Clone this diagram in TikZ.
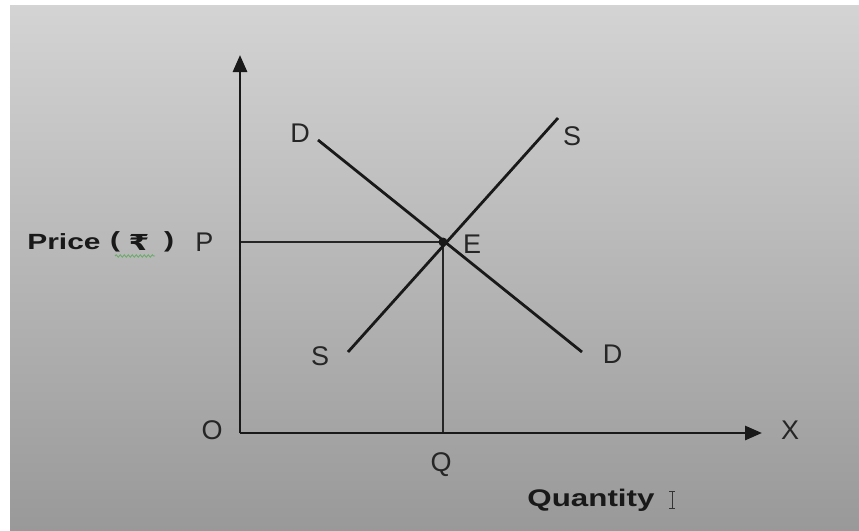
\documentclass[tikz,border=0pt]{standalone}
\usepackage{fontspec}
\setmainfont{Liberation Sans}
\newfontfamily\rupeefont{DejaVu Sans}
\usetikzlibrary{arrows.meta,decorations.pathmorphing}
\begin{document}
\begin{tikzpicture}[x=1pt,y=-1pt,
  lbl/.style={font=\fontsize{27}{27}\selectfont, text=black!85, inner sep=0pt},
  boldlbl/.style={font=\fontsize{22}{22}\selectfont\bfseries, text=black!90, inner sep=0pt, xscale=1.36},
  axis/.style={line width=2.8pt, draw=black!90, -{Triangle[length=17pt,width=14pt]}},
  curve/.style={line width=2.8pt, draw=black!90},
  guide/.style={line width=1.5pt, draw=black!85}]
\useasboundingbox (0,0) rectangle (859,530);
\fill[white] (0,0) rectangle (859,530);
\shade[top color=black!17, bottom color=black!40] (10,5) rectangle (859,530);
% points
\coordinate (O) at (240,433);
\coordinate (Ytop) at (240,55);
\coordinate (Xend) at (762,433);
\coordinate (E) at (443,242);
\coordinate (Paxis) at (240,242);
\coordinate (Qaxis) at (443,433);
\coordinate (D1) at (318,140);
\coordinate (D2) at (582,352);
\coordinate (S1) at (348,352);
\coordinate (S2) at (558,118);
% guides
\draw[guide] (Paxis) -- (E);
\draw[guide] (E) -- (Qaxis);
% axes
\draw[axis] (O) -- (Ytop);
\draw[axis] (O) -- (Xend);
% curves
\draw[curve] (D1) -- (D2);
\draw[curve] (S1) -- (S2);
\fill[black!90] (E) circle (4.5pt);
% labels
\node[lbl] (lO) at (212,430) {O};
\node[lbl] (lX) at (790,430) {X};
\node[lbl] (lQ) at (441,465) {Q};
\node[lbl] (lE) at (472,244) {E};
\node[lbl] (lP) at (204.5,242.5) {P};
\node[lbl] (lD1) at (300,133.5) {D};
\node[lbl] (lD2) at (612.5,354.5) {D};
\node[lbl] (lS1) at (320,356) {S};
\node[lbl] (lS2) at (572,136) {S};
\node[boldlbl] (price) at (64,242) {Price};
\node[boldlbl] (lpar) at (115,242) {(};
\node[boldlbl] (rupee) at (139,242) {\rupeefont\bfseries ₹};
\node[boldlbl] (rpar) at (169,242) {)};
\draw[black!55!green!60, line width=0.8pt,
  decorate, decoration={snake, amplitude=1.2pt, segment length=4pt}]
  (115,256) -- (155,256);
\node[boldlbl, font=\fontsize{24}{24}\selectfont\bfseries, xscale=0.96] (qty) at (591,500) {Quantity};
% I-beam cursor
\draw[black!80, line width=0.8pt] (672,491) -- (672,508)
  (669,491) -- (675,491) (669,508) -- (675,508);
\end{tikzpicture}
\end{document}
